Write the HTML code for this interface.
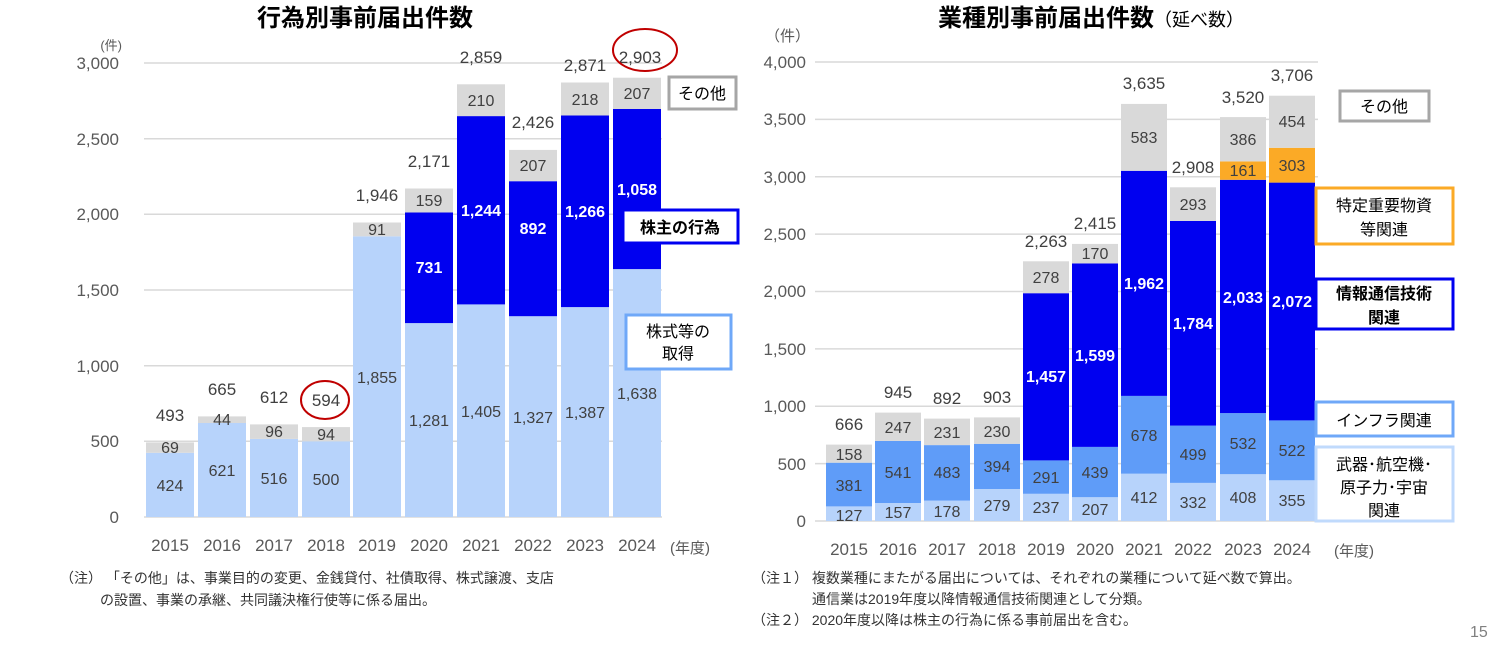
<!DOCTYPE html>
<html><head><meta charset="utf-8"><style>
body{margin:0;background:#fff;width:1512px;height:644px;overflow:hidden}
svg{font-family:"Liberation Sans","Noto Sans CJK JP",sans-serif}
.t{font-size:17px;fill:#595959}
.v{font-size:16px;fill:#404040;text-anchor:middle}
.w{font-size:16px;fill:#fff;font-weight:bold;text-anchor:middle}
.tot{font-size:17px;fill:#404040;text-anchor:middle}
.n{font-size:14px;fill:#333}
.g{stroke:#d9d9d9;stroke-width:1.5}
</style></head><body>
<svg width="1512" height="644" xmlns="http://www.w3.org/2000/svg">
<!-- Titles -->
<text x="365" y="26" font-size="24" font-weight="bold" text-anchor="middle" fill="#000">行為別事前届出件数</text>
<text x="938" y="26" font-size="24" font-weight="bold" fill="#000">業種別事前届出件数<tspan font-size="18" font-weight="normal">（延べ数）</tspan></text>

<!-- LEFT CHART -->
<text x="122" y="50" font-size="13" fill="#595959" text-anchor="end">(件)</text>
<g class="g">
<line x1="144" y1="63" x2="662" y2="63"/><line x1="144" y1="138.7" x2="662" y2="138.7"/><line x1="144" y1="214.3" x2="662" y2="214.3"/><line x1="144" y1="290" x2="662" y2="290"/><line x1="144" y1="365.7" x2="662" y2="365.7"/><line x1="144" y1="441.3" x2="662" y2="441.3"/><line x1="144" y1="517" x2="662" y2="517"/>
</g>
<g class="t" text-anchor="end">
<text x="119" y="69">3,000</text><text x="119" y="145">2,500</text><text x="119" y="220">2,000</text><text x="119" y="296">1,500</text><text x="119" y="372">1,000</text><text x="119" y="447">500</text><text x="119" y="523">0</text>
</g>
<g>
<!-- 2015 -->
<rect x="146" y="452.8" width="48" height="64.2" fill="#b7d3fb"/><rect x="146" y="442.4" width="48" height="10.4" fill="#d9d9d9"/>
<!-- 2016 -->
<rect x="198" y="423" width="48" height="94" fill="#b7d3fb"/><rect x="198" y="416.4" width="48" height="6.6" fill="#d9d9d9"/>
<!-- 2017 -->
<rect x="250" y="438.9" width="48" height="78.1" fill="#b7d3fb"/><rect x="250" y="424.4" width="48" height="14.5" fill="#d9d9d9"/>
<!-- 2018 -->
<rect x="302" y="441.3" width="48" height="75.7" fill="#b7d3fb"/><rect x="302" y="427.1" width="48" height="14.2" fill="#d9d9d9"/>
<!-- 2019 -->
<rect x="353" y="236.3" width="48" height="280.7" fill="#b7d3fb"/><rect x="353" y="222.5" width="48" height="13.8" fill="#d9d9d9"/>
<!-- 2020 -->
<rect x="405" y="323.1" width="48" height="193.9" fill="#b7d3fb"/><rect x="405" y="212.5" width="48" height="110.6" fill="#0000f0"/><rect x="405" y="188.5" width="48" height="24" fill="#d9d9d9"/>
<!-- 2021 -->
<rect x="457" y="304.4" width="48" height="212.6" fill="#b7d3fb"/><rect x="457" y="116.1" width="48" height="188.3" fill="#0000f0"/><rect x="457" y="84.3" width="48" height="31.8" fill="#d9d9d9"/>
<!-- 2022 -->
<rect x="509" y="316.2" width="48" height="200.8" fill="#b7d3fb"/><rect x="509" y="181.2" width="48" height="135" fill="#0000f0"/><rect x="509" y="149.9" width="48" height="31.3" fill="#d9d9d9"/>
<!-- 2023 -->
<rect x="561" y="307.1" width="48" height="209.9" fill="#b7d3fb"/><rect x="561" y="115.5" width="48" height="191.6" fill="#0000f0"/><rect x="561" y="82.5" width="48" height="33" fill="#d9d9d9"/>
<!-- 2024 -->
<rect x="613" y="269.1" width="48" height="247.9" fill="#b7d3fb"/><rect x="613" y="109" width="48" height="160.1" fill="#0000f0"/><rect x="613" y="77.7" width="48" height="31.3" fill="#d9d9d9"/>
</g>
<g class="v">
<text x="170" y="491">424</text><text x="170" y="453">69</text>
<text x="222" y="476">621</text><text x="222" y="425">44</text>
<text x="274" y="484">516</text><text x="274" y="437">96</text>
<text x="326" y="485">500</text><text x="326" y="440">94</text>
<text x="377" y="383">1,855</text><text x="377" y="235">91</text>
<text x="429" y="426">1,281</text><text x="429" y="206">159</text>
<text x="481" y="417">1,405</text><text x="481" y="106">210</text>
<text x="533" y="423">1,327</text><text x="533" y="171">207</text>
<text x="585" y="418">1,387</text><text x="585" y="105">218</text>
<text x="637" y="399">1,638</text><text x="637" y="99">207</text>
</g>
<g class="w">
<text x="429" y="273">731</text><text x="481" y="216">1,244</text><text x="533" y="234">892</text><text x="585" y="217">1,266</text><text x="637" y="195">1,058</text>
</g>
<g class="tot">
<text x="170" y="421">493</text><text x="222" y="395">665</text><text x="274" y="403">612</text><text x="326" y="406">594</text><text x="377" y="201">1,946</text><text x="429" y="167">2,171</text><text x="481" y="63">2,859</text><text x="533" y="128">2,426</text><text x="585" y="71">2,871</text><text x="640" y="63">2,903</text>
</g>
<ellipse cx="325" cy="400" rx="24" ry="19" fill="none" stroke="#c00000" stroke-width="2"/>
<ellipse cx="645" cy="50" rx="32" ry="21" fill="none" stroke="#c00000" stroke-width="2"/>
<g class="t" text-anchor="middle">
<text x="170" y="551">2015</text><text x="222" y="551">2016</text><text x="274" y="551">2017</text><text x="326" y="551">2018</text><text x="377" y="551">2019</text><text x="429" y="551">2020</text><text x="481" y="551">2021</text><text x="533" y="551">2022</text><text x="585" y="551">2023</text><text x="637" y="551">2024</text>
</g>
<text x="670" y="553" font-size="15" fill="#595959">(年度)</text>
<!-- left legends -->
<rect x="669" y="77" width="67" height="32" fill="#fff" stroke="#a6a6a6" stroke-width="3"/>
<text x="702" y="99" font-size="16" text-anchor="middle" fill="#000">その他</text>
<rect x="623" y="210" width="115" height="33" fill="#fff" stroke="#0000f0" stroke-width="3"/>
<text x="680" y="233" font-size="16" font-weight="bold" text-anchor="middle" fill="#000">株主の行為</text>
<rect x="626" y="315" width="105" height="54" fill="#fff" stroke="#6fa8f8" stroke-width="3"/>
<text x="678" y="337" font-size="16" text-anchor="middle" fill="#000">株式等の</text>
<text x="678" y="359" font-size="16" text-anchor="middle" fill="#000">取得</text>

<!-- RIGHT CHART -->
<text x="810" y="41" font-size="15" fill="#595959" text-anchor="end">（件）</text>
<g class="g">
<line x1="815" y1="62" x2="1318" y2="62"/><line x1="815" y1="119.4" x2="1318" y2="119.4"/><line x1="815" y1="176.8" x2="1318" y2="176.8"/><line x1="815" y1="234.1" x2="1318" y2="234.1"/><line x1="815" y1="291.5" x2="1318" y2="291.5"/><line x1="815" y1="348.9" x2="1318" y2="348.9"/><line x1="815" y1="406.3" x2="1318" y2="406.3"/><line x1="815" y1="463.6" x2="1318" y2="463.6"/><line x1="815" y1="521" x2="1318" y2="521"/>
</g>
<g class="t" text-anchor="end">
<text x="806" y="68">4,000</text><text x="806" y="125">3,500</text><text x="806" y="183">3,000</text><text x="806" y="240">2,500</text><text x="806" y="297">2,000</text><text x="806" y="355">1,500</text><text x="806" y="412">1,000</text><text x="806" y="470">500</text><text x="806" y="527">0</text>
</g>
<g>
<!-- 2015 -->
<rect x="826" y="506.4" width="46" height="14.6" fill="#b7d3fb"/><rect x="826" y="462.7" width="46" height="43.7" fill="#5f9cf8"/><rect x="826" y="444.6" width="46" height="18.1" fill="#d9d9d9"/>
<!-- 2016 -->
<rect x="875" y="503" width="46" height="18" fill="#b7d3fb"/><rect x="875" y="440.9" width="46" height="62.1" fill="#5f9cf8"/><rect x="875" y="412.6" width="46" height="28.3" fill="#d9d9d9"/>
<!-- 2017 -->
<rect x="924" y="500.6" width="46" height="20.4" fill="#b7d3fb"/><rect x="924" y="445.1" width="46" height="55.5" fill="#5f9cf8"/><rect x="924" y="418.6" width="46" height="26.5" fill="#d9d9d9"/>
<!-- 2018 -->
<rect x="974" y="489" width="46" height="32" fill="#b7d3fb"/><rect x="974" y="443.8" width="46" height="45.2" fill="#5f9cf8"/><rect x="974" y="417.4" width="46" height="26.4" fill="#d9d9d9"/>
<!-- 2019 -->
<rect x="1023" y="493.8" width="46" height="27.2" fill="#b7d3fb"/><rect x="1023" y="460.4" width="46" height="33.4" fill="#5f9cf8"/><rect x="1023" y="293.2" width="46" height="167.2" fill="#0000f0"/><rect x="1023" y="261.3" width="46" height="31.9" fill="#d9d9d9"/>
<!-- 2020 -->
<rect x="1072" y="497.2" width="46" height="23.8" fill="#b7d3fb"/><rect x="1072" y="446.9" width="46" height="50.3" fill="#5f9cf8"/><rect x="1072" y="263.4" width="46" height="183.5" fill="#0000f0"/><rect x="1072" y="243.9" width="46" height="19.5" fill="#d9d9d9"/>
<!-- 2021 -->
<rect x="1121" y="473.7" width="46" height="47.3" fill="#b7d3fb"/><rect x="1121" y="395.9" width="46" height="77.8" fill="#5f9cf8"/><rect x="1121" y="170.8" width="46" height="225.1" fill="#0000f0"/><rect x="1121" y="103.9" width="46" height="66.9" fill="#d9d9d9"/>
<!-- 2022 -->
<rect x="1170" y="482.9" width="46" height="38.1" fill="#b7d3fb"/><rect x="1170" y="425.6" width="46" height="57.3" fill="#5f9cf8"/><rect x="1170" y="220.9" width="46" height="204.7" fill="#0000f0"/><rect x="1170" y="187.3" width="46" height="33.6" fill="#d9d9d9"/>
<!-- 2023 -->
<rect x="1220" y="474.2" width="46" height="46.8" fill="#b7d3fb"/><rect x="1220" y="413.1" width="46" height="61.1" fill="#5f9cf8"/><rect x="1220" y="179.8" width="46" height="233.3" fill="#0000f0"/><rect x="1220" y="161.4" width="46" height="18.4" fill="#fbaa26"/><rect x="1220" y="117.1" width="46" height="44.3" fill="#d9d9d9"/>
<!-- 2024 -->
<rect x="1269" y="480.3" width="46" height="40.7" fill="#b7d3fb"/><rect x="1269" y="420.4" width="46" height="59.9" fill="#5f9cf8"/><rect x="1269" y="182.6" width="46" height="237.8" fill="#0000f0"/><rect x="1269" y="147.8" width="46" height="34.8" fill="#fbaa26"/><rect x="1269" y="95.7" width="46" height="52.1" fill="#d9d9d9"/>
</g>
<g class="v">
<text x="849" y="521">127</text><text x="849" y="491">381</text><text x="849" y="460">158</text>
<text x="898" y="518">157</text><text x="898" y="478">541</text><text x="898" y="433">247</text>
<text x="947" y="517">178</text><text x="947" y="478">483</text><text x="947" y="438">231</text>
<text x="997" y="511">279</text><text x="997" y="472">394</text><text x="997" y="437">230</text>
<text x="1046" y="513">237</text><text x="1046" y="483">291</text><text x="1046" y="283">278</text>
<text x="1095" y="515">207</text><text x="1095" y="478">439</text><text x="1095" y="259">170</text>
<text x="1144" y="503">412</text><text x="1144" y="441">678</text><text x="1144" y="143">583</text>
<text x="1193" y="508">332</text><text x="1193" y="460">499</text><text x="1193" y="210">293</text>
<text x="1243" y="503">408</text><text x="1243" y="449">532</text><text x="1243" y="176">161</text><text x="1243" y="145">386</text>
<text x="1292" y="506">355</text><text x="1292" y="456">522</text><text x="1292" y="171">303</text><text x="1292" y="127">454</text>
</g>
<g class="w">
<text x="1046" y="382">1,457</text><text x="1095" y="361">1,599</text><text x="1144" y="289">1,962</text><text x="1193" y="329">1,784</text><text x="1243" y="303">2,033</text><text x="1292" y="307">2,072</text>
</g>
<g class="tot">
<text x="849" y="430">666</text><text x="898" y="398">945</text><text x="947" y="404">892</text><text x="997" y="403">903</text><text x="1046" y="247">2,263</text><text x="1095" y="229">2,415</text><text x="1144" y="89">3,635</text><text x="1193" y="173">2,908</text><text x="1243" y="103">3,520</text><text x="1292" y="81">3,706</text>
</g>
<g class="t" text-anchor="middle">
<text x="849" y="555">2015</text><text x="898" y="555">2016</text><text x="947" y="555">2017</text><text x="997" y="555">2018</text><text x="1046" y="555">2019</text><text x="1095" y="555">2020</text><text x="1144" y="555">2021</text><text x="1193" y="555">2022</text><text x="1243" y="555">2023</text><text x="1292" y="555">2024</text>
</g>
<text x="1334" y="556" font-size="15" fill="#595959">(年度)</text>
<!-- right legends -->
<rect x="1340" y="91" width="89" height="30" fill="#fff" stroke="#a6a6a6" stroke-width="3"/>
<text x="1384" y="112" font-size="16" text-anchor="middle" fill="#000">その他</text>
<rect x="1316" y="188" width="137" height="56" fill="#fff" stroke="#fbaa26" stroke-width="3"/>
<text x="1384" y="211" font-size="16" text-anchor="middle" fill="#000">特定重要物資</text>
<text x="1384" y="235" font-size="16" text-anchor="middle" fill="#000">等関連</text>
<rect x="1316" y="279" width="137" height="50" fill="#fff" stroke="#0000f0" stroke-width="3"/>
<text x="1384" y="299" font-size="16" font-weight="bold" text-anchor="middle" fill="#000">情報通信技術</text>
<text x="1384" y="323" font-size="16" font-weight="bold" text-anchor="middle" fill="#000">関連</text>
<rect x="1316" y="402" width="137" height="34" fill="#fff" stroke="#6fa8f8" stroke-width="3"/>
<text x="1384" y="426" font-size="16" text-anchor="middle" fill="#000">インフラ関連</text>
<rect x="1316" y="447" width="137" height="74" fill="#fff" stroke="#c0dafc" stroke-width="3"/>
<text x="1384" y="470" font-size="16" text-anchor="middle" fill="#000">武器･航空機･</text>
<text x="1384" y="493" font-size="16" text-anchor="middle" fill="#000">原子力･宇宙</text>
<text x="1384" y="516" font-size="16" text-anchor="middle" fill="#000">関連</text>

<!-- notes -->
<text x="60" y="583" class="n">（注） 「その他」は、事業目的の変更、金銭貸付、社債取得、株式譲渡、支店</text>
<text x="100" y="605" class="n">の設置、事業の承継、共同議決権行使等に係る届出。</text>
<text x="752" y="583" class="n">（注１） 複数業種にまたがる届出については、それぞれの業種について延べ数で算出。</text>
<text x="812" y="604" class="n">通信業は2019年度以降情報通信技術関連として分類。</text>
<text x="752" y="625" class="n">（注２） 2020年度以降は株主の行為に係る事前届出を含む。</text>
<text x="1470" y="637" font-size="16" fill="#808080">15</text>
</svg>
</body></html>
